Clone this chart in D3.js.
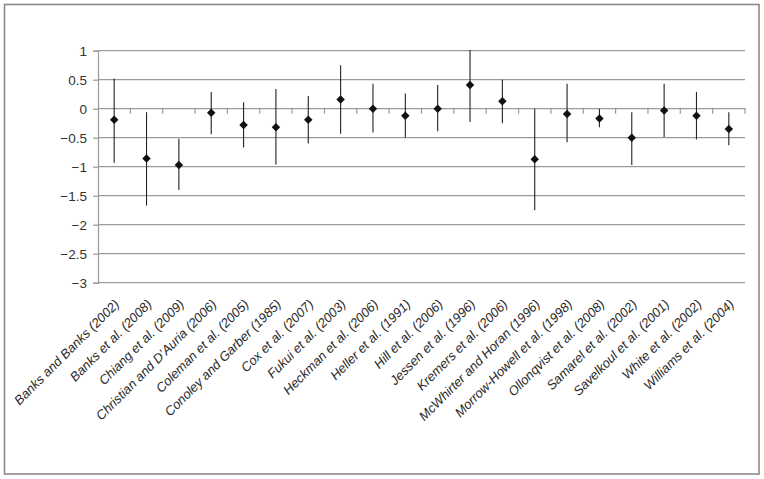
<!DOCTYPE html>
<html>
<head>
<meta charset="utf-8">
<script src="https://cdn.jsdelivr.net/npm/d3@7"></script>
<style>
  html, body { margin: 0; padding: 0; background: #fff; }
  svg { display: block; }
  text { font-family: Arial, "Liberation Sans", Helvetica, sans-serif; }
</style>
</head>
<body>
<svg id="chart" width="764" height="479"></svg>
<script>
const studies = [
  "Banks and Banks (2002)", "Banks et al. (2008)", "Chiang et al. (2009)",
  "Christian and D\u2019Auria (2006)", "Coleman et al. (2005)", "Conoley and Garber (1985)",
  "Cox et al. (2007)", "Fukui et al. (2003)", "Heckman et al. (2006)",
  "Heller et al. (1991)", "Hill et al. (2006)", "Jessen et al. (1996)",
  "Kremers et al. (2006)", "McWhirter and Horan (1996)", "Morrow-Howell et al. (1998)",
  "Ollonqvist et al. (2008)", "Samarel et al. (2002)", "Savelkoul et al. (2001)",
  "White et al. (2002)", "Williams et al. (2004)"
];
const effect = [-0.19, -0.86, -0.97, -0.07, -0.28, -0.32, -0.19, 0.16, 0.00,
                -0.12, 0.00, 0.41, 0.13, -0.87, -0.09, -0.17, -0.50, -0.03, -0.12, -0.35];
const upper  = [0.52, -0.06, -0.52, 0.29, 0.11, 0.34, 0.22, 0.75, 0.43,
                0.26, 0.41, 1.01, 0.50, 0.00, 0.43, 0.00, -0.06, 0.43, 0.29, -0.06];
const lower  = [-0.93, -1.67, -1.40, -0.44, -0.67, -0.96, -0.60, -0.43, -0.41,
                -0.50, -0.39, -0.23, -0.25, -1.75, -0.58, -0.32, -0.97, -0.49, -0.53, -0.63];
const yTicks = [1, 0.5, 0, -0.5, -1, -1.5, -2, -2.5, -3];
const yTickLabels = ["1", "0.5", "0", "\u22120.5", "\u22121", "\u22121.5", "\u22122", "\u22122.5", "\u22123"];

const svg = d3.select("#chart");

// outer frame
svg.append("rect")
  .attr("x", 4.5).attr("y", 4.5).attr("width", 754.5).attr("height", 469.5)
  .attr("fill", "#fff").attr("stroke", "#8a8a8a").attr("stroke-width", 1.6);

const plotLeft = 98, plotRight = 745, plotTop = 50.7, plotBottom = 282.7;

const x = d3.scaleBand().domain(studies).range([plotLeft, plotRight]).padding(0);
const y = d3.scaleLinear().domain([-3, 1]).range([plotBottom, plotTop]);

// gridlines
svg.append("g").selectAll("line").data(yTicks).join("line")
  .attr("x1", plotLeft).attr("x2", plotRight)
  .attr("y1", d => y(d)).attr("y2", d => y(d))
  .attr("stroke", "#9a9a9a").attr("stroke-width", 1.2);

// y axis
const yAxis = d3.axisLeft(y)
  .tickValues(yTicks)
  .tickSize(5)
  .tickPadding(6)
  .tickFormat((d, i) => yTickLabels[i]);
const gy = svg.append("g").attr("transform", `translate(${plotLeft},0)`).call(yAxis);
gy.select(".domain").attr("stroke", "#9a9a9a").attr("stroke-width", 1.2);
gy.selectAll(".tick line").attr("stroke", "#9a9a9a").attr("stroke-width", 1.2);
gy.selectAll(".tick text").attr("font-size", "13.5px").attr("fill", "#333")
  .attr("font-family", "Arial, 'Liberation Sans', sans-serif");

// category axis ticks on the zero line
const boundaries = studies.map(s => x(s)).concat([x(studies[studies.length - 1]) + x.bandwidth()]);
svg.append("g").selectAll("line").data(boundaries.slice(1)).join("line")
  .attr("x1", d => d).attr("x2", d => d)
  .attr("y1", y(0) - 1).attr("y2", y(0) + 5)
  .attr("stroke", "#9a9a9a").attr("stroke-width", 1.2);

// error bars
const cx = s => x(s) + x.bandwidth() / 2;
svg.append("g").selectAll("line").data(studies).join("line")
  .attr("x1", d => cx(d)).attr("x2", d => cx(d))
  .attr("y1", (d, i) => y(upper[i])).attr("y2", (d, i) => y(lower[i]))
  .attr("stroke", "#222").attr("stroke-width", 1.1);

// diamonds
const diamond = d3.symbol().type(d3.symbolSquare).size(36);
svg.append("g").selectAll("path").data(studies).join("path")
  .attr("d", diamond)
  .attr("transform", (d, i) => `translate(${cx(d)},${y(effect[i])}) rotate(45)`)
  .attr("fill", "#111");

// category labels
svg.append("g").selectAll("text").data(studies).join("text")
  .attr("transform", d => `translate(${cx(d) + 6},${305}) rotate(-45)`)
  .attr("text-anchor", "end")
  .attr("font-size", "13px")
  .attr("font-style", "italic")
  .attr("fill", "#2a2a2a")
  .text(d => d);
</script>
</body>
</html>
